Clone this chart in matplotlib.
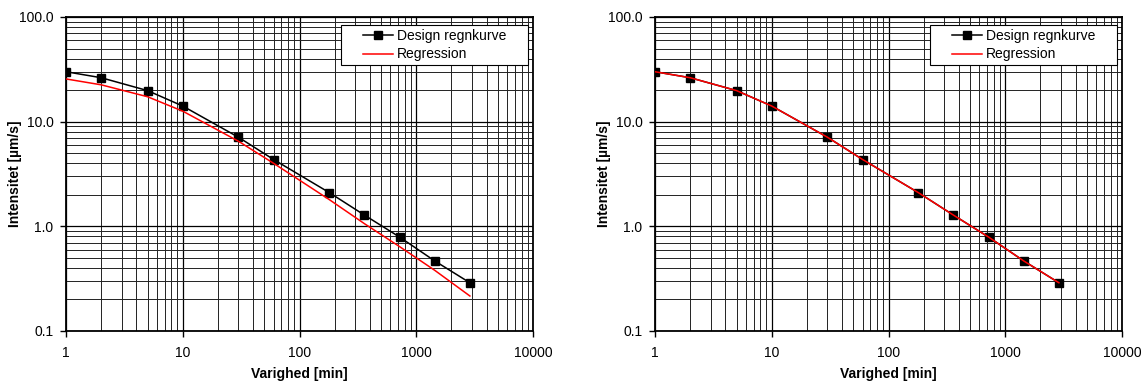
import matplotlib
matplotlib.use("Agg")
import matplotlib.pyplot as plt
from matplotlib.patches import Rectangle
from matplotlib.ticker import LogLocator, FixedLocator, FixedFormatter, NullFormatter

plt.rcParams['font.family'] = ['Liberation Sans', 'DejaVu Sans']

# Duration [min] and design rain intensities [µm/s]
duration = [1, 2, 5, 10, 30, 60, 180, 360, 720, 1440, 2880]
design = [30.0, 26.3, 19.8, 14.1, 7.1, 4.35, 2.1, 1.28, 0.79, 0.467, 0.289]

# Regression curves for the two fits
regression_left = [25.6, 22.5, 17.3, 12.6, 6.5, 4.0, 1.8, 1.06, 0.64, 0.38, 0.216]
regression_right = [30.0, 26.3, 19.8, 14.1, 7.1, 4.35, 2.1, 1.28, 0.79, 0.467, 0.289]

x_ticks = [1, 10, 100, 1000, 10000]
x_labels = ["1", "10", "100", "1000", "10000"]
y_ticks = [0.1, 1, 10, 100]
y_labels = ["0.1", "1.0", "10.0", "100.0"]

fig = plt.figure(figsize=(11.45, 3.83), dpi=100)
ax_l = fig.add_axes([66 / 1145, 52 / 383, 467 / 1145, 314 / 383])
ax_r = fig.add_axes([655 / 1145, 52 / 383, 467 / 1145, 314 / 383])


def draw(ax, reg):
    ax.set_xscale('log')
    ax.set_yscale('log')
    ax.set_xlim(1, 10000)
    ax.set_ylim(0.1, 100)
    ax.xaxis.set_major_locator(FixedLocator(x_ticks))
    ax.xaxis.set_major_formatter(FixedFormatter(x_labels))
    ax.yaxis.set_major_locator(FixedLocator(y_ticks))
    ax.yaxis.set_major_formatter(FixedFormatter(y_labels))
    ax.xaxis.set_minor_locator(LogLocator(base=10, subs=range(2, 10)))
    ax.yaxis.set_minor_locator(LogLocator(base=10, subs=range(2, 10)))
    ax.xaxis.set_minor_formatter(NullFormatter())
    ax.yaxis.set_minor_formatter(NullFormatter())
    ax.grid(True, which='major', color='black', linewidth=0.9)
    ax.grid(True, which='minor', color='#222222', linewidth=0.7)
    ax.set_axisbelow(True)
    ax.tick_params(which='major', direction='out', length=4, width=1,
                   labelsize=10, colors='black')
    ax.tick_params(axis='x', which='major', pad=7)
    ax.tick_params(axis='y', which='major', pad=5)
    ax.tick_params(which='minor', length=0)
    for s in ax.spines.values():
        s.set_linewidth(1.3)
        s.set_color('black')
    ax.plot(duration, design, color='black', linewidth=1.1, marker='s',
            markersize=6, markerfacecolor='black', markeredgecolor='black',
            label='Design regnkurve', zorder=3)
    ax.plot(duration, reg, color='#ff0000', linewidth=1.1,
            label='Regression', zorder=4)
    ax.set_xlabel('Varighed [min]', fontsize=10, fontweight='bold', labelpad=5)
    ax.set_ylabel('Intensitet [µm/s]', fontsize=10, fontweight='bold', labelpad=-2)

    # Legend box with generous side padding
    box = Rectangle((0.589, 0.847), 0.400, 0.128, transform=ax.transAxes,
                    facecolor='white', edgecolor='black', linewidth=0.8,
                    zorder=5, clip_on=False)
    ax.add_patch(box)
    leg = ax.legend(loc='center', bbox_to_anchor=(0.789, 0.911), fontsize=10,
                    frameon=False, borderpad=0, handlelength=2.2,
                    handletextpad=0.25, labelspacing=0.35, borderaxespad=0)
    leg.set_zorder(6)


draw(ax_l, regression_left)
draw(ax_r, regression_right)

fig.savefig('out.png', dpi=100)
